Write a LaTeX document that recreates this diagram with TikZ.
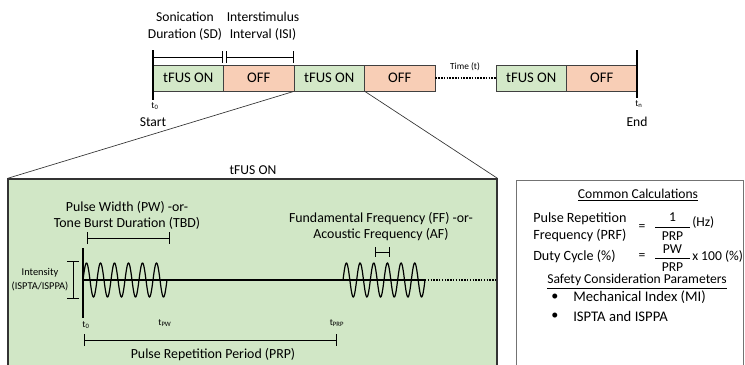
\documentclass[tikz,border=0pt]{standalone}
\usepackage{fontspec}
\setmainfont{Carlito}
\usetikzlibrary{fit,arrows.meta}
\definecolor{ongreen}{RGB}{211,232,200}
\definecolor{offpeach}{RGB}{248,206,182}
\definecolor{bggreen}{RGB}{209,231,198}
\begin{document}
\begin{tikzpicture}[x=0.75pt,y=-0.75pt,
  onbox/.style={draw=black!75, line width=0.7pt, fill=ongreen, minimum width=52.875pt, minimum height=19.5pt, inner sep=0pt, font=\fontsize{11}{13}\selectfont},
  offbox/.style={onbox, fill=offpeach},
  lbl/.style={font=\fontsize{10.2}{12.75}\selectfont, align=center, inner sep=0pt},
  calc/.style={font=\fontsize{10.6}{12.4}\selectfont, align=left, inner sep=0pt},
  mid/.style={font=\fontsize{10.4}{12}\selectfont, align=center, inner sep=0pt},
  small/.style={font=\fontsize{7.8}{10.5}\selectfont, align=center, inner sep=0pt},
  tiny/.style={font=\fontsize{7}{8}\selectfont, inner sep=0pt},
  brk/.style={line width=0.6pt, {Bar[width=9pt]}-{Bar[width=9pt]}},
  axisline/.style={line width=1.8pt},
  dots/.style={densely dotted, line width=1.1pt},
  wave/.style={line width=0.9pt, smooth},
  zoomline/.style={line width=0.5pt, black!80}
]
\useasboundingbox (0,0) rectangle (745,364);

% ---- top timeline ----
\node[lbl] (sdlbl) at (185,26.5) {Sonication\\Duration (SD)};
\node[lbl] (isilbl) at (263,26.5) {Interstimulus\\Interval (ISI)};
\coordinate (sdL) at (153,57); \coordinate (sdR) at (223,57);
\coordinate (isiL) at (225.5,57); \coordinate (isiR) at (294,57);
\draw[brk] (sdL) -- (sdR);
\draw[brk] (isiL) -- (isiR);

\node[onbox] (on1) at (188.25,78) {tFUS ON};
\node[offbox] (off1) at (258.75,78) {OFF};
\node[onbox] (on2) at (329.25,78) {tFUS ON};
\node[offbox] (off2) at (399.75,78) {OFF};
\node[onbox] (on3) at (531.25,78) {tFUS ON};
\node[offbox] (off3) at (601.75,78) {OFF};

\draw[dots] (off2.east) -- (on3.west);
\node[tiny] (timelbl) at (465,67) {Time (t)};

\coordinate (stTop) at (153,50); \coordinate (stBot) at (153,100);
\coordinate (enTop) at (637,50); \coordinate (enBot) at (637,98);
\draw[axisline] (stTop) -- (stBot);
\draw[axisline] (enTop) -- (enBot);
\node[tiny] (t0top) at (155,106) {t\textsubscript{0}};
\node[lbl] (start) at (153,122) {Start};
\node[tiny] (tn) at (639,104) {t\textsubscript{n}};
\node[lbl] (end) at (637,122) {End};

% ---- lower green panel ----
\node[fit={(8,179) (497,372)}, inner sep=0pt, draw=black!80, line width=0.9pt, fill=bggreen] (big) {};
\draw[zoomline] (on2.south west) -- (big.north west);
\draw[zoomline] (on2.south east) -- (big.north east);
\node[lbl] (ontitle) at (253,170) {tFUS ON};

\node[mid] (pwlbl) at (127,215) {Pulse Width (PW) -or-\\Tone Burst Duration (TBD)};
\coordinate (pwL) at (87,238); \coordinate (pwR) at (170,238);
\draw[brk] (pwL) -- (pwR);

\node[mid] (fflbl) at (381,226.5) {Fundamental Frequency (FF) -or-\\Acoustic Frequency (AF)};
\coordinate (ffL) at (375,252); \coordinate (ffR) at (390,252);
\draw[line width=0.6pt, {Bar[width=7pt]}-{Bar[width=7pt]}] (ffL) -- (ffR);

\coordinate (axTop) at (83,248); \coordinate (axBot) at (83,318);
\draw[axisline] (axTop) -- (axBot);
\coordinate (base0) at (83,280); \coordinate (base1) at (425,280); \coordinate (base2) at (497,280);
\draw[line width=0.9pt] (base0) -- (base1);
\draw[dots] (base1) -- (base2);
\draw[wave, domain=83:167, samples=160] plot (\x,{280-17*sin(25.7143*(\x-83))});
\draw[wave, domain=343:425, samples=160] plot (\x,{280-17*sin(26.341*(\x-343))});

\coordinate (inT) at (73,261); \coordinate (inB) at (73,299);
\draw[brk] (inT) -- (inB);
\node[small] (intlbl) at (40,280) {Intensity\\(ISPTA/ISPPA)};

\node[tiny] (t0) at (86,325) {t\textsubscript{0}};
\node[tiny] (tpw) at (165,323) {t\textsubscript{PW}};
\node[tiny] (tprp) at (337,323) {t\textsubscript{PRP}};

\coordinate (prpL) at (84,340); \coordinate (prpR) at (337,340);
\draw[brk] (prpL) -- (prpR);
\node[mid] (prplbl) at (213,355) {Pulse Repetition Period (PRP)};

% ---- right calculation panel ----
\node[fit={(516,180) (743,372)}, inner sep=0pt, draw=black!55, line width=0.6pt, fill=white] (calc) {};
\node[lbl] (cc) at (638,195) {\underline{Common Calculations}};
\node[calc, anchor=west] (prf) at (533,227) {Pulse Repetition\\Frequency (PRF)};
\node[lbl] (eq1) at (642,228) {=};
\node[lbl] (one) at (672.5,217) {1};
\node[lbl] (prp1) at (672.5,236) {PRP};
\coordinate (f1L) at (655,227); \coordinate (f1R) at (690,227);
\draw[line width=0.6pt] (f1L) -- (f1R);
\node[lbl, anchor=west] (hz) at (692,222) {(Hz)};

\node[calc, anchor=west] (duty) at (533,256) {Duty Cycle (\%)};
\node[lbl] (eq2) at (642,257) {=};
\node[lbl] (pw) at (672.5,249.5) {PW};
\node[lbl] (prp2) at (672.5,267) {PRP};
\coordinate (f2L) at (655,258.5); \coordinate (f2R) at (690,258.5);
\draw[line width=0.6pt] (f2L) -- (f2R);
\node[lbl, anchor=west] (x100) at (692,256) {x 100 (\%)};

\node[lbl] (safety) at (637,281.5) {\underline{Safety Consideration Parameters}};
\node[calc] (b1) at (555,297) {\textbullet};
\node[calc, anchor=west, font=\fontsize{11}{13}\selectfont] (mi) at (573,297) {Mechanical Index (MI)};
\node[calc] (b2) at (555,316) {\textbullet};
\node[calc, anchor=west, font=\fontsize{11}{13}\selectfont] (isp) at (573,316) {ISPTA and ISPPA};
\end{tikzpicture}
\end{document}
